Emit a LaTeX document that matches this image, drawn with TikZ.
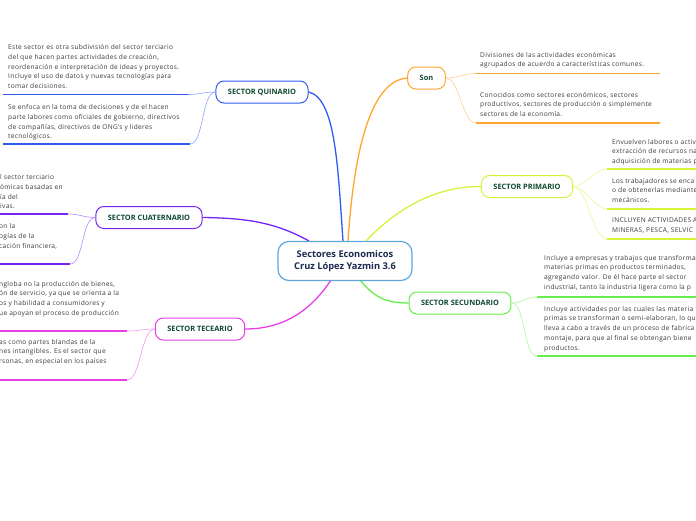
\documentclass[tikz,border=0pt]{standalone}
\usepackage{fontspec}
\setmainfont{Open Sans}
\usetikzlibrary{positioning}
\definecolor{cHub}{HTML}{5FA8DC}
\definecolor{cQuin}{HTML}{2F5BF0}
\definecolor{cCuat}{HTML}{7426F5}
\definecolor{cTec}{HTML}{E63FE6}
\definecolor{cSon}{HTML}{FFA630}
\definecolor{cPrim}{HTML}{D8F23A}
\definecolor{cSec}{HTML}{66EE4A}
\definecolor{cHead}{HTML}{0E4A30}
\definecolor{cNavy}{HTML}{1B2A4E}
\definecolor{cBody}{HTML}{3A3A3A}

\begin{document}
\begin{tikzpicture}[
    x=1pt, y=-1pt,
    hub/.style={draw=cHub, line width=1.2pt, rounded corners=11pt, fill=white, align=center, text=cNavy, font=\fontsize{9.3}{11.5}\selectfont\bfseries, minimum width=134pt, minimum height=39pt},
    sector/.style={draw=#1, line width=1pt, rounded corners=8pt, fill=white, text=cHead, font=\fontsize{7.4}{8}\selectfont\bfseries, minimum height=22pt, inner xsep=12pt},
    leaf/.style={anchor=north west, align=left, inner sep=0pt, text=cBody, font=\fontsize{6.6}{9.7}\selectfont\addfontfeature{LetterSpace=4.5}},
    branch/.style={draw=#1, line width=1.3pt},
    uline/.style={draw=#1, line width=1.8pt},
    twig/.style={draw=#1!55, line width=0.6pt}
]
\useasboundingbox (0,0) rectangle (696,520);
\clip (0,0) rectangle (696,520);

% branches
\coordinate (hubN1) at (309,241);
\coordinate (hubN2) at (343,241);
\coordinate (hubN3) at (348,241);
\coordinate (hubN4) at (366,241);
\coordinate (hubS1) at (331,280);
\coordinate (hubS2) at (360,280);

\node[sector=cQuin] (quin) at (262,92) {SECTOR QUINARIO};
\node[sector=cCuat] (cuat) at (149,217.5) {SECTOR CUATERNARIO};
\node[sector=cTec] (tec) at (200,329) {SECTOR TECEARIO};
\node[sector=cSon] (son) at (426.5,78) {Son};
\node[sector=cPrim] (prim) at (527,186.5) {SECTOR PRIMARIO};
\node[sector=cSec] (sec) at (460,303) {SECTOR SECUNDARIO};

\draw[branch=cQuin] (hubN2) .. controls (338,170) and (336,98) .. (quin.east);
\draw[branch=cSon] (hubN3) .. controls (356,120) and (380,80) .. (son.west);
\draw[branch=cCuat] (hubN1) .. controls (275,222) and (245,218) .. (cuat.east);
\draw[branch=cPrim] (hubN4) .. controls (400,205) and (440,186) .. (prim.west);
\draw[branch=cTec] (hubS1) .. controls (310,312) and (282,329) .. (tec.east);
\draw[branch=cSec] (hubS2) .. controls (376,300) and (390,303) .. (sec.west);

\node[hub] (main) at (345,261) {Sectores Economicos\\Cruz López Yazmin 3.6};

% quinario
\node[leaf] (quinA) at (8,44.5) {Este sector es otra subdivisión del sector terciario\\del que hacen partes actividades de creación,\\reordenación e interpretación de ideas y proyectos.\\Incluye el uso de datos y nuevas tecnologías para\\tomar decisiones.};
\node[leaf] (quinB) at (8,104.5) {Se enfoca en la toma de decisiones y de el hacen\\parte labores como oficiales de gobierno, directivos\\de compañías, directivos de ONG's y lideres\\tecnológicos.};
\coordinate (quinA0) at (3,94.5);
\coordinate (quinA1) at (188,94.5);
\coordinate (quinB0) at (3,144);
\coordinate (quinB1) at (190,144);
\draw[uline=cQuin] (quinA0) -- (quinA1);
\draw[uline=cQuin] (quinB0) -- (quinB1);
\draw[twig=cQuin] (quin.west) .. controls +(-12,0) and +(12,0) .. (quinA1);
\draw[twig=cQuin] (quin.west) .. controls +(-14,0) and +(14,0) .. (quinB1);

% cuaternario
\node[leaf] (cuatA) at (0,174.5) {l sector terciario\\ómicas basadas en\\ía del\\ivas.};
\node[leaf] (cuatB) at (-1,223.5) {on la\\ogías de la\\cación financiera,};
\coordinate (cuatA0) at (0,214);
\coordinate (cuatA1) at (68,214);
\coordinate (cuatB0) at (0,264);
\coordinate (cuatB1) at (70,264);
\draw[uline=cCuat] (cuatA0) -- (cuatA1);
\draw[uline=cCuat] (cuatB0) -- (cuatB1);
\draw[twig=cCuat] (cuat.west) .. controls +(-12,0) and +(12,0) .. (cuatA1);
\draw[twig=cCuat] (cuat.west) .. controls +(-14,0) and +(14,0) .. (cuatB1);

% tecEario
\node[leaf] (tecA) at (-1,281) {ngloba no la producción de bienes,\\ón de servicio, ya que se orienta a la\\os y habilidad a consumidores y\\ue apoyan el proceso de producción};
\node[leaf] (tecB) at (-1,339) {as como partes blandas de la\\nes intangibles. Es el sector que\\rsonas, en especial en los países};
\coordinate (tecA0) at (0,331);
\coordinate (tecA1) at (127,331);
\coordinate (tecB0) at (0,380);
\coordinate (tecB1) at (127,380);
\draw[uline=cTec] (tecA0) -- (tecA1);
\draw[uline=cTec] (tecB0) -- (tecB1);
\draw[twig=cTec] (tec.west) .. controls +(-12,0) and +(12,0) .. (tecA1);
\draw[twig=cTec] (tec.west) .. controls +(-14,0) and +(14,0) .. (tecB1);

% son
\node[leaf] (sonA) at (480,52) {Divisiones de las actividades económicas\\agrupados de acuerdo a características comunes.};
\node[leaf] (sonB) at (480,92) {Conocidos como sectores económicos, sectores\\productivos, sectores de producción o simplemente\\sectores de la economía.};
\coordinate (sonA0) at (476,73.5);
\coordinate (sonA1) at (660,73.5);
\coordinate (sonB0) at (476,123);
\coordinate (sonB1) at (660,123);
\draw[uline=cSon] (sonA0) -- (sonA1);
\draw[uline=cSon] (sonB0) -- (sonB1);
\draw[twig=cSon] (son.east) .. controls +(12,0) and +(-12,0) .. (sonA0);
\draw[twig=cSon] (son.east) .. controls +(14,0) and +(-14,0) .. (sonB0);

% primario
\node[leaf] (primA) at (612,139) {Envuelven labores o activ\\extracción de recursos na\\adquisición de materias p};
\node[leaf] (primB) at (612,178) {Los trabajadores se enca\\o de obtenerlas mediante\\mecánicos.};
\node[leaf] (primC) at (612,218) {INCLUYEN ACTIVIDADES A\\MINERAS, PESCA, SELVIC};
\coordinate (primA0) at (607,169);
\coordinate (primA1) at (696,169);
\coordinate (primB0) at (607,209);
\coordinate (primB1) at (696,209);
\coordinate (primC0) at (607,239);
\coordinate (primC1) at (696,239);
\draw[uline=cPrim] (primA0) -- (primA1);
\draw[uline=cPrim] (primB0) -- (primB1);
\draw[uline=cPrim] (primC0) -- (primC1);
\draw[twig=cPrim] (prim.east) .. controls +(12,0) and +(-12,0) .. (primA0);
\draw[twig=cPrim] (prim.east) .. controls +(12,0) and +(-12,0) .. (primB0);
\draw[twig=cPrim] (prim.east) .. controls +(14,0) and +(-14,0) .. (primC0);

% secundario
\node[leaf] (secA) at (544,255) {Incluye a empresas y trabajos que transforma\\materias primas en  productos terminados,\\agregando valor. De él hace parte el sector\\industrial,  tanto la industria ligera como la p};
\node[leaf] (secB) at (544,306) {Incluye actividades por las cuales las materia\\primas se transforman o semi-elaboran, lo qu\\lleva a cabo a través de un proceso de fabrica\\montaje, para que al final se obtengan biene\\productos.};
\coordinate (secA0) at (537,297);
\coordinate (secA1) at (696,297);
\coordinate (secB0) at (537,356);
\coordinate (secB1) at (696,356);
\draw[uline=cSec] (secA0) -- (secA1);
\draw[uline=cSec] (secB0) -- (secB1);
\draw[twig=cSec] (sec.east) .. controls +(12,0) and +(-12,0) .. (secA0);
\draw[twig=cSec] (sec.east) .. controls +(14,0) and +(-14,0) .. (secB0);

\end{tikzpicture}
\end{document}
